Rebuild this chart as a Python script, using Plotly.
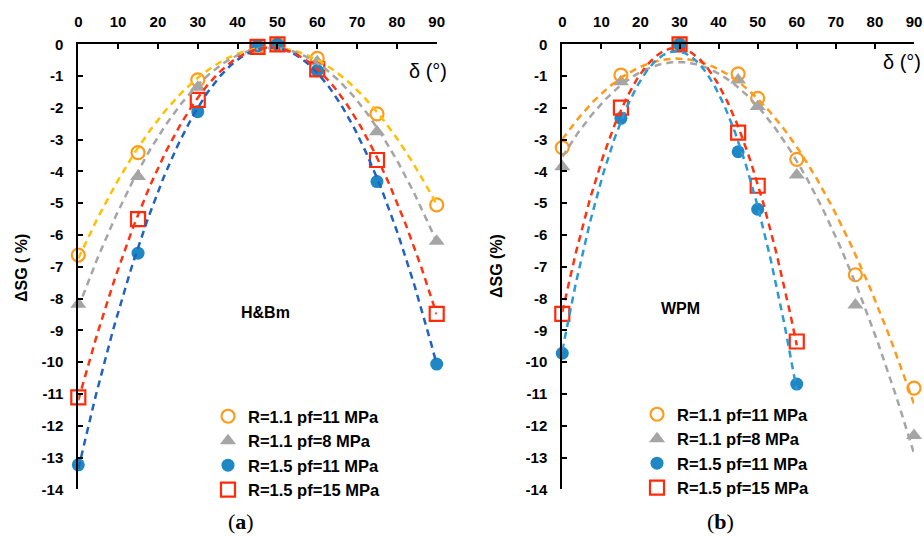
import numpy as np
import plotly.graph_objects as go

# ---------------- data ----------------
series_names = ["R=1.1 pf=11 MPa", "R=1.1 pf=8 MPa", "R=1.5 pf=11 MPa", "R=1.5 pf=15 MPa"]

# Panel (a) H&Bm
delta_a = [0, 15, 30, 45, 50, 60, 75, 90]
a_r11_pf11 = [-6.63, -3.41, -1.12, -0.10, 0.0, -0.44, -2.19, -5.05]
a_r11_pf8 = [-8.18, -4.16, -1.35, -0.06, 0.0, -0.55, -2.75, -6.20]
a_r15_pf11 = [-13.23, -6.57, -2.12, -0.05, 0.0, -0.83, -4.32, -10.06]
a_r15_pf15 = [-11.11, -5.50, -1.75, -0.08, 0.0, -0.79, -3.64, -8.48]

# Panel (b) WPM
delta_b = [0, 15, 30, 45, 50, 60, 75, 90]
b_r11_pf11 = [-3.25, -0.97, 0.0, -0.93, -1.70, -3.62, -7.25, -10.82]
b_r11_pf8 = [-3.85, -1.18, 0.0, -1.12, -1.96, -4.11, -8.20, -12.31]
delta_b2 = [0, 15, 30, 45, 50, 60]
b_r15_pf11 = [-9.72, -2.33, 0.0, -3.38, -5.19, -10.69]
b_r15_pf15 = [-8.48, -1.99, 0.0, -2.78, -4.45, -9.35]

x_ticks = [0, 10, 20, 30, 40, 50, 60, 70, 80, 90]
y_ticks = list(range(-14, 1))
y_ticktext = [str(v) for v in y_ticks]  # ascii hyphen

# ---------------- styles ----------------
FONT = "Liberation Sans"
marker_styles = [
    dict(symbol="circle-open", size=13, color="#FF9A1A", line=dict(width=2.2, color="#FF9A1A")),
    dict(symbol="triangle-up", size=14, color="#A5A5A5"),
    dict(symbol="circle", size=13, color="#1F88C4"),
    dict(symbol="square-open", size=14, color="#FF2A0A", line=dict(width=2.2, color="#FF2A0A")),
]
trend_colors_a = ["#FFC000", "#A5A5A5", "#1F62C0", "#FF3311"]
trend_colors_b = ["#FF9A1A", "#A5A5A5", "#2A9AD6", "#FF3311"]

fig = go.Figure()

def add_panel(xs_list, ys_list, xaxis, yaxis, legend, tcolors):
    # markers
    for i, (xs, ys) in enumerate(zip(xs_list, ys_list)):
        fig.add_trace(go.Scatter(
            x=xs, y=ys, mode="markers", name=series_names[i],
            marker=marker_styles[i], xaxis=xaxis, yaxis=yaxis,
            legend=legend, cliponaxis=False, showlegend=True))
    # polynomial (order 2) trendlines fitted to the data
    for i, (xs, ys) in enumerate(zip(xs_list, ys_list)):
        c = np.polyfit(xs, ys, 2)
        xx = np.linspace(min(xs), max(xs), 200)
        yy = np.polyval(c, xx)
        fig.add_trace(go.Scatter(
            x=xx, y=yy, mode="lines", line=dict(color=tcolors[i], width=2.5, dash="7px,5px"),
            xaxis=xaxis, yaxis=yaxis, showlegend=False, hoverinfo="skip"))

add_panel([delta_a] * 4, [a_r11_pf11, a_r11_pf8, a_r15_pf11, a_r15_pf15],
          "x", "y", "legend", trend_colors_a)
add_panel([delta_b, delta_b, delta_b2, delta_b2], [b_r11_pf11, b_r11_pf8, b_r15_pf11, b_r15_pf15],
          "x2", "y2", "legend2", trend_colors_b)

W, H = 924, 536
def px(v):
    return v / W
def py(v):
    return 1 - v / H

xa_common = dict(range=[0, 90], side="top", showline=True, linecolor="black", linewidth=2,
                 ticks="inside", ticklen=5, tickwidth=2, tickcolor="black",
                 tickvals=x_ticks, showgrid=False, zeroline=False, automargin=False,
                 tickfont=dict(family=FONT, size=15, color="black", weight="bold"),
                 ticklabelstandoff=9)
ya_common = dict(range=[-14, 0], showline=True, linecolor="black", linewidth=2,
                 ticks="inside", ticklen=5, tickwidth=2, tickcolor="black",
                 tickvals=y_ticks, ticktext=y_ticktext, showgrid=False, zeroline=False,
                 automargin=False,
                 tickfont=dict(family=FONT, size=15, color="black", weight="bold"),
                 ticklabelstandoff=10)

fig.update_layout(
    width=W, height=H, autosize=False,
    margin=dict(l=0, r=0, t=0, b=0),
    paper_bgcolor="white", plot_bgcolor="white",
    xaxis=dict(domain=[px(78.3), px(436.7)], anchor="y", **xa_common),
    yaxis=dict(domain=[py(489.3), py(44.3)], anchor="x", **ya_common),
    xaxis2=dict(domain=[px(562.3), px(914)], anchor="y2", **xa_common),
    yaxis2=dict(domain=[py(489.3), py(44.3)], anchor="x2", **ya_common),
    legend=dict(x=px(208), y=py(399), xanchor="left", yanchor="top", bgcolor="rgba(0,0,0,0)",
                font=dict(family=FONT, size=16.5, color="black", weight="bold"),
                itemclick=False, tracegroupgap=0),
    legend2=dict(x=px(637), y=py(397), xanchor="left", yanchor="top", bgcolor="rgba(0,0,0,0)",
                 font=dict(family=FONT, size=16.5, color="black", weight="bold"),
                 itemclick=False, tracegroupgap=0),
    showlegend=True,
)

ann_font = dict(family=FONT, size=16, color="black", weight="bold")
def ann(text, x, y, font, **kw):
    return dict(text=text, x=px(x), y=py(y), xref="paper", yref="paper", showarrow=False,
                xanchor="center", yanchor="middle", font=font, **kw)

annotations = [
    ann("H&Bm", 265, 312, ann_font),
    ann("WPM", 680, 308, ann_font),
    ann("δ (°)", 428, 71, dict(family=FONT, size=20, color="black")),
    ann("δ (°)", 902, 62, dict(family=FONT, size=20, color="black")),
    ann("ΔSG ( %)", 21, 268, ann_font, textangle=-90),
    ann("ΔSG (%)", 497, 266, ann_font, textangle=-90),
    ann("(<b>a</b>)", 241, 521, dict(family="Liberation Serif", size=22, color="black")),
    ann("(<b>b</b>)", 720, 521, dict(family="Liberation Serif", size=22, color="black")),
]
fig.update_layout(annotations=annotations)

fig.write_html("out.html", config={"displayModeBar": False},
               post_script="document.body.style.margin='0';document.body.style.overflow='hidden';")
